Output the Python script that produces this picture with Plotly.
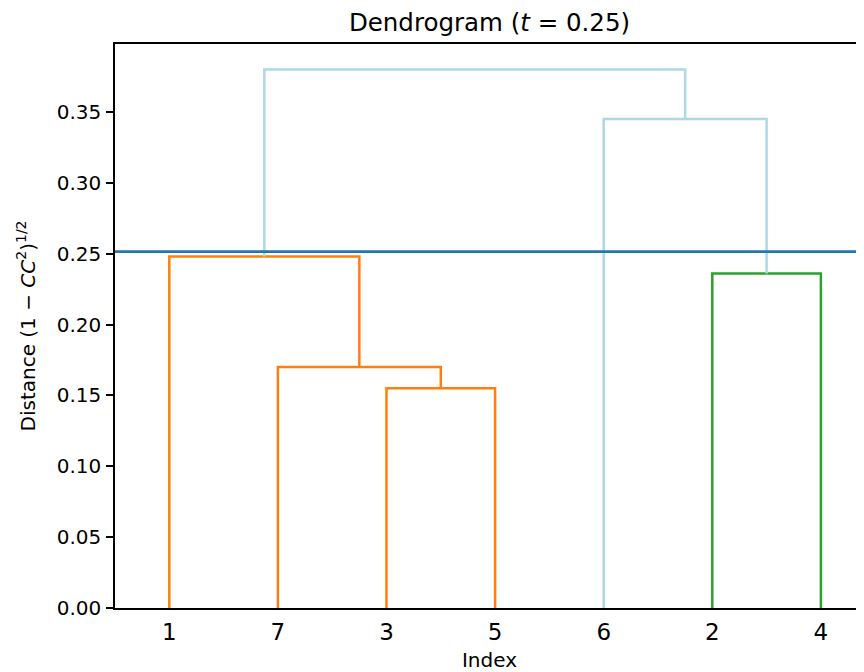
import plotly.graph_objects as go

# Leaf order along the x axis (labels)
leaf_labels = ["1", "7", "3", "5", "6", "2", "4"]

# Merges: (left member, right member, height, colour, new cluster name)
merges = [
    ("3", "5", 0.155, "#ff7f0e", "A"),
    ("7", "A", 0.170, "#ff7f0e", "B"),
    ("1", "B", 0.248, "#ff7f0e", "C"),
    ("2", "4", 0.236, "#2ca02c", "D"),
    ("6", "D", 0.345, "#add8e6", "E"),
    ("C", "E", 0.380, "#add8e6", "F"),
]

threshold_line = 0.2515
y_ticks = [0.00, 0.05, 0.10, 0.15, 0.20, 0.25, 0.30, 0.35]

# positions (scipy convention: leaves at 5, 15, 25, ...)
pos = {lab: 5 + 10 * i for i, lab in enumerate(leaf_labels)}
height = {lab: 0.0 for lab in leaf_labels}

fig = go.Figure()
for left, right, h, col, name in merges:
    xl, xr = pos[left], pos[right]
    fig.add_trace(go.Scatter(
        x=[xl, xl, xr, xr], y=[height[left], h, h, height[right]],
        mode="lines", line=dict(color=col, width=2.5), showlegend=False,
        hoverinfo="skip"))
    pos[name] = (xl + xr) / 2
    height[name] = h

fig.add_hline(y=threshold_line, line=dict(color="#1f77b4", width=2.8))

W, H = 856, 664  # page body has an 8px margin
fig.update_layout(
    width=W, height=H,
    margin=dict(l=107, r=0, t=36, b=64),
    paper_bgcolor="white", plot_bgcolor="white",
    font=dict(family="DejaVu Sans", color="black"),
    title=dict(text="Dendrogram (<i>t</i> = 0.25)", x=0.5, xref="paper", xanchor="center",
               y=1 - 14 / H, yanchor="middle", font=dict(size=24.5)),
    xaxis=dict(range=[0, 68.97], tickvals=[5 + 10 * i for i in range(len(leaf_labels))],
               ticktext=leaf_labels, ticks="", tickfont=dict(size=23), ticklabelstandoff=3,
               showgrid=False, zeroline=False, showline=True, linecolor="black",
               linewidth=1.5, mirror=True, automargin=False,
               title=dict(text="Index", font=dict(size=20), standoff=13)),
    yaxis=dict(range=[0, 0.398], tickvals=y_ticks,
               tickformat=".2f", ticks="outside", ticklen=7, tickwidth=1.5, tickcolor="black",
               tickfont=dict(size=20), ticklabelstandoff=1, showgrid=False, zeroline=False,
               showline=True, linecolor="black", linewidth=1.5, automargin=False,
               title=dict(text="Distance (1 − <i>CC</i><sup>2</sup>)<sup>1/2</sup>",
                          font=dict(size=20), standoff=16)),
)

fig.write_html("out.html")
